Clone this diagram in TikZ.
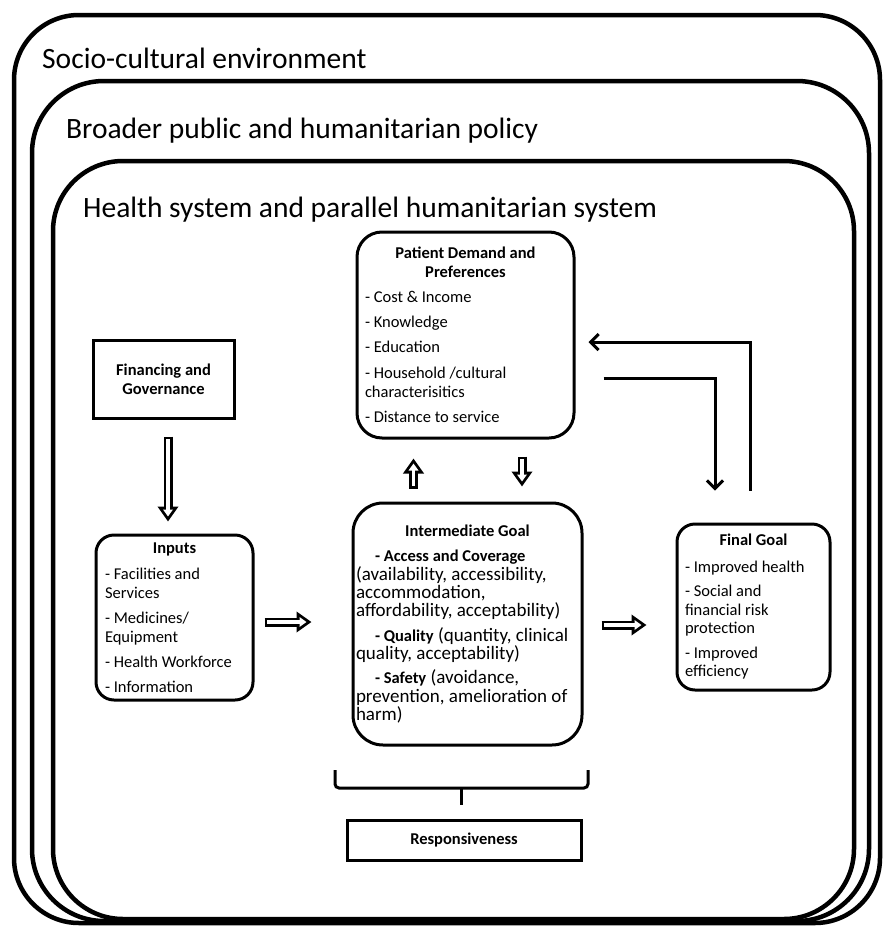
\documentclass[tikz,border=0pt]{standalone}
\usepackage{fontspec}
\setmainfont{Carlito}
\usetikzlibrary{arrows.meta,positioning}
\setlength{\parindent}{0pt}

\tikzset{
  frame/.style={draw,line width=4.5pt,rounded corners=#1},
  framelabel/.style={anchor=base west,inner sep=0pt,font=\fontsize{29.5}{32}\selectfont},
  box/.style={draw,line width=3pt,inner xsep=8pt,inner ysep=3pt,align=flush left,
    font=\fontsize{16.5}{19}\selectfont},
  roundbox/.style={box,rounded corners=#1},
  hollow/.style 2 args={line width=9pt,shorten <=#1,shorten >=#2,
    -{Triangle[length=15pt,width=20pt]},
    postaction={draw=white,line width=3.4pt,shorten <=#1+2.8pt,shorten >=#2+5pt,
      -{Triangle[length=7pt,width=9.5pt]}}},
  feedback/.style={line width=3pt,-{Straight Barb[length=8pt,width=16pt]}},
}
\newcommand{\itembf}[1]{{\fontsize{16.5}{18}\selectfont\bfseries #1}}

\begin{document}
\begin{tikzpicture}[x=1pt,y=-1pt]
  \useasboundingbox (0,0) rectangle (883,927);

  % nested environments
  \draw[frame=65pt] (14,15) rectangle (880,923);
  \draw[frame=72pt] (32,81) rectangle (869,921);
  \draw[frame=70pt] (53,161) rectangle (854,919);
  \node[framelabel] (soclbl) at (42,68) {Socio-cultural environment};
  \node[framelabel] (pollbl) at (66,138) {Broader public and humanitarian policy};
  \node[framelabel] (hlthlbl) at (83,217) {Health system and parallel humanitarian system};

  % boxes
  \node[roundbox=25pt,minimum width=217pt,minimum height=206pt,text width=201pt] (pat) at (465.5,335)
    {{\centering\bfseries Patient Demand and\\Preferences\par}\vspace{6pt}%
     - Cost \& Income\\[6pt]- Knowledge\\[6pt]- Education\\[7pt]- Household /cultural\\characterisitics\\[6pt]- Distance to service};
  \node[box,minimum width=141pt,minimum height=78pt,align=center] (fin) at (163.5,379)
    {\bfseries Financing and\\\bfseries Governance};
  \node[roundbox=18pt,minimum width=157pt,minimum height=165pt,text width=139pt,inner xsep=9pt] (inp) at (174.5,617.5)
    {{\centering\bfseries Inputs\par}\vspace{7pt}%
     - Facilities and\\Services\\[6pt]- Medicines/\\Equipment\\[6pt]- Health Workforce\\[6pt]- Information};
  \node[roundbox=30pt,minimum width=229pt,minimum height=242pt,text width=223pt,inner xsep=3pt,
    font=\fontsize{19}{18.3}\selectfont] (int) at (467.5,624)
    {{\centering\fontsize{16.5}{19}\selectfont\bfseries Intermediate Goal\par}\vspace{7pt}%
     \hspace*{19pt}\itembf{- Access and Coverage}\\
     (availability, accessibility,\\accommodation,\\affordability, acceptability)\\[6pt]
     \hspace*{19pt}\itembf{- Quality} (quantity, clinical\\quality, acceptability)\\[6pt]
     \hspace*{19pt}\itembf{- Safety} (avoidance,\\prevention, amelioration of\\harm)};
  \node[roundbox=18pt,minimum width=153pt,minimum height=166pt,text width=137pt,
    font=\fontsize{16.5}{18.5}\selectfont] (fgl) at (753.5,607)
    {{\centering\bfseries Final Goal\par}\vspace{8pt}%
     - Improved health\\[6pt]- Social and\\financial risk\\protection\\[6pt]- Improved\\efficiency};
  \node[box,minimum width=234pt,minimum height=40pt,align=center] (resp) at (464,840) {\bfseries Responsiveness};

  % hollow arrows
  \draw[hollow={17pt}{12pt}] ([xshift=4.5pt]fin.south) -- ([xshift=4.5pt]fin.south |- inp.north);
  \draw[hollow={10pt}{40pt}] ([yshift=-4.5pt]inp.east) -- ([yshift=-4.5pt]inp.east -| int.west);
  \draw[hollow={18pt}{29pt}] ([yshift=-1pt]int.east) -- ([yshift=-1pt]int.east -| fgl.west);
  \draw[hollow={13pt}{19pt}] ([xshift=-54pt]int.north) -- ([xshift=-54pt]int.north |- pat.south);
  \draw[hollow={17pt}{15pt}] ([xshift=56.5pt]pat.south) -- ([xshift=56.5pt]pat.south |- int.north);

  % feedback loop
  \draw[feedback] ([xshift=-3.5pt,yshift=32pt]fgl.north) |- ([xshift=13pt,yshift=-7pt]pat.east);
  \draw[feedback] ([xshift=28pt,yshift=-43pt]pat.east) -| ([xshift=-38.5pt,yshift=32pt]fgl.north);

  % brace
  \draw[line width=3pt,rounded corners=4pt] (335,770) |- (588,788) -- (588,770);
  \draw[line width=3pt] (461.5,788) -- (461.5,805);
\end{tikzpicture}
\end{document}
